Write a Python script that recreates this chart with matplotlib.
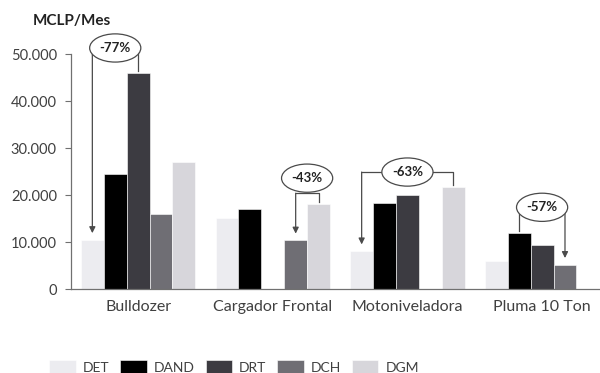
import matplotlib
matplotlib.use("Agg")
from matplotlib import pyplot as plt
from matplotlib.patches import Ellipse
from matplotlib.ticker import FuncFormatter
import numpy as np

plt.rcParams["font.family"] = ["Lato", "DejaVu Sans"]

# equipos y costo mensual por escenario (MCLP/Mes)
equipos = ["Bulldozer", "Cargador Frontal", "Motoniveladora", "Pluma 10 Ton"]
series = ["DET", "DAND", "DRT", "DCH", "DGM"]
colores = ["#ececf0", "#000000", "#3c3b41", "#6f6e74", "#d7d6db"]
DET = [10500, 15200, 8100, 6000]
DAND = [24500, 17000, 18400, 12000]
DRT = [46000, np.nan, 20000, 9300]
DCH = [16000, 10400, np.nan, 5200]
DGM = [27000, 18200, 21800, np.nan]
valores = [DET, DAND, DRT, DCH, DGM]

# reducciones: (equipo, serie origen, serie destino, nivel del corchete, etiqueta)
reducciones = [
    (0, "DRT", "DET", 51300, "-77%"),
    (1, "DGM", "DCH", 20400, "-43%"),
    (2, "DGM", "DET", 24900, "-63%"),
    (3, "DAND", "DCH", 16800, "-57%"),
]
elipse_dy = [0, 3200, 0, 600]

fig = plt.figure(figsize=(6.0, 3.73), dpi=100)
ax = fig.add_axes([0.118, 0.225, 0.882, 0.63])

x = np.arange(len(equipos))
ancho = 0.17
for i, (nombre, vals, col) in enumerate(zip(series, valores, colores)):
    ax.bar(x + (i - 2) * ancho, vals, ancho, color=col, label=nombre,
           edgecolor="white", linewidth=0.4)

ax.set_ylim(0, 50000)
ax.set_xlim(-0.5, 3.43)
ax.set_yticks(np.arange(0, 50001, 10000))
ax.yaxis.set_major_formatter(FuncFormatter(lambda v, p: f"{int(v):,}".replace(",", ".")))
ax.set_xticks(x)
ax.set_xticklabels(equipos)
ax.tick_params(axis="x", length=0, pad=8, labelsize=11.5, labelcolor="#404040")
ax.tick_params(axis="y", length=4, width=0.8, color="#707070", labelsize=10.5,
               labelcolor="#404040", pad=6)
for s in ["top", "right"]:
    ax.spines[s].set_visible(False)
for s in ["left", "bottom"]:
    ax.spines[s].set_color("#707070")
    ax.spines[s].set_linewidth(0.9)

fig.text(0.055, 0.945, "MCLP/Mes", fontsize=11, fontweight="bold",
         color="#222222", va="center")

gris = "#4a4a4a"
for (k, src, dst, nivel, txt), dy in zip(reducciones, elipse_dy):
    i0 = series.index(src)
    i1 = series.index(dst)
    x0 = k + (i0 - 2) * ancho
    x1 = k + (i1 - 2) * ancho
    y0 = valores[i0][k]
    y1 = valores[i1][k]
    ax.plot([x0, x0, x1], [y0 + 400, nivel, nivel], color=gris, lw=0.9,
            clip_on=False, zorder=3)
    ax.annotate("", xy=(x1, y1 + 1400), xytext=(x1, nivel + 1),
                arrowprops=dict(arrowstyle="-|>", color=gris, lw=0.9,
                                mutation_scale=9, shrinkA=0, shrinkB=0),
                annotation_clip=False, zorder=3)
    xm = (x0 + x1) / 2
    ym = nivel + dy
    ax.add_patch(Ellipse((xm, ym), 0.38, 6000, facecolor="white",
                         edgecolor=gris, lw=0.9, clip_on=False, zorder=4))
    ax.text(xm, ym, txt, ha="center", va="center", fontsize=9.5,
            fontweight="bold", color="#222222", zorder=5)

fig.legend(loc="lower center", bbox_to_anchor=(0.39, -0.035), ncol=5,
           frameon=False, fontsize=10, handlelength=1.9, handleheight=1.1,
           columnspacing=0.8, handletextpad=0.5, labelcolor="#404040")

fig.savefig("out.png", dpi=100)
